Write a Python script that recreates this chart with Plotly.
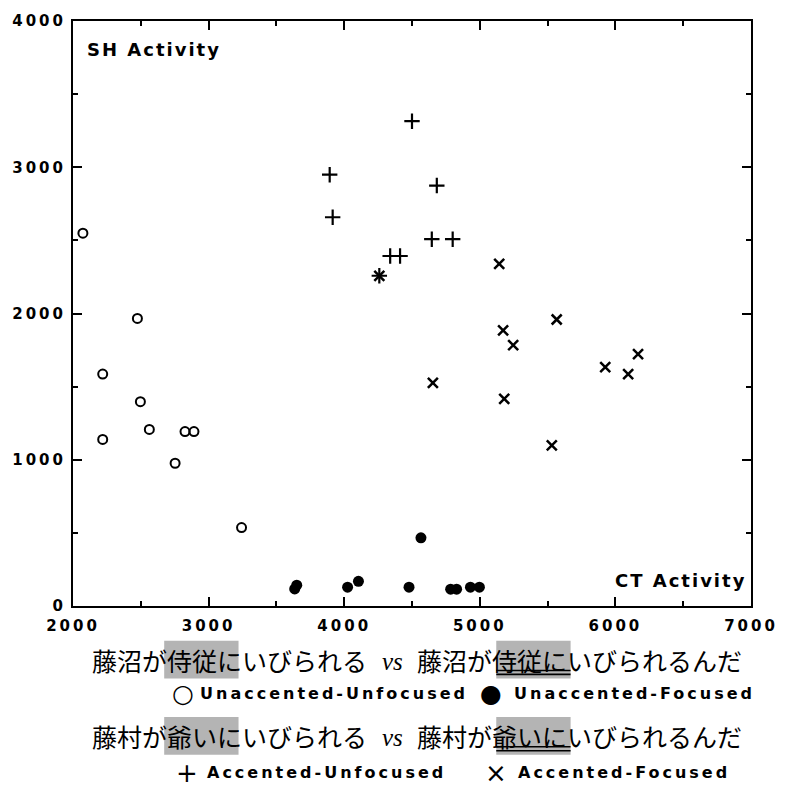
import plotly.graph_objects as go

# ---------------- data ----------------
uu_x = [2073, 2475, 2219, 2219, 2497, 2563, 2826, 2892, 2753, 3243]
uu_y = [2549, 1966, 1586, 1139, 1397, 1207, 1193, 1193, 976, 536]

uf_x = [3635, 3650, 4025, 4105, 4478, 4566, 4785, 4829, 4931, 4997]
uf_y = [117, 142, 129, 169, 129, 466, 115, 115, 129, 129]

au_x = [3893, 3915, 4259, 4339, 4412, 4500, 4683, 4646, 4800]
au_y = [2949, 2658, 2258, 2393, 2393, 3315, 2875, 2508, 2508]

af_x = [4259, 5143, 5567, 5172, 5246, 4654, 5180, 5531, 5925, 6094, 6167]
af_y = [2258, 2339, 1959, 1885, 1783, 1525, 1417, 1098, 1634, 1586, 1722]

x_ticks = [2000, 3000, 4000, 5000, 6000, 7000]
y_ticks = [0, 1000, 2000, 3000, 4000]

series_names = ["Unaccented-Unfocused", "Unaccented-Focused",
                "Accented-Unfocused", "Accented-Focused"]
x_title = "CT Activity"
y_title = "SH Activity"
line1 = ["藤沼が侍従にいびられる", "vs", "藤沼が侍従にいびられるんだ"]
line2 = ["藤村が爺いにいびられる", "vs", "藤村が爺いにいびられるんだ"]

# ---------------- layout helpers (page pixels) ----------------
L, R, T, B = 73, 757, 16, 606
W = H = 790


def pxx(p):
    return (p - L) / (R - L)


def pxy(p):
    return (B - p) / (B - T)


def sp(text, ls):
    return f'<span style="letter-spacing:{ls}px">{text}</span>'


BOLD = "DejaVu Sans"

fig = go.Figure()
fig.add_trace(go.Scatter(x=uu_x, y=uu_y, mode="markers", name=series_names[0],
                         marker=dict(symbol="circle-open", size=9, color="black",
                                     line=dict(width=2, color="black"))))
fig.add_trace(go.Scatter(x=uf_x, y=uf_y, mode="markers", name=series_names[1],
                         marker=dict(symbol="circle", size=11, color="black")))
fig.add_trace(go.Scatter(x=au_x, y=au_y, mode="markers", name=series_names[2],
                         marker=dict(symbol="cross-thin", size=11, color="black",
                                     line=dict(width=2.2, color="black"))))
fig.add_trace(go.Scatter(x=af_x, y=af_y, mode="markers", name=series_names[3],
                         marker=dict(symbol="x-thin", size=10, color="black",
                                     line=dict(width=2.5, color="black"))))

axis_common = dict(showgrid=False, zeroline=False, showline=True, linewidth=2,
                   linecolor="black", mirror="allticks", ticks="inside",
                   ticklen=9, tickwidth=2, tickcolor="black",
                   tickfont=dict(family=BOLD, size=15, color="black", weight="bold"))

fig.update_layout(
    width=W, height=H,
    margin=dict(l=L, r=W - R, t=T, b=H - B, pad=0),
    paper_bgcolor="white", plot_bgcolor="white",
    showlegend=False,
    xaxis=dict(range=[2000, 7000], tickvals=x_ticks,
               ticktext=[sp(str(v), 3) for v in x_ticks], ticklabelstandoff=5,
               minor=dict(dtick=500, ticks="inside", ticklen=5, tickwidth=2,
                          tickcolor="black"),
               **axis_common),
    yaxis=dict(range=[0, 4000], tickvals=y_ticks,
               ticktext=[sp(str(v), 3) for v in y_ticks], ticklabelstandoff=2,
               minor=dict(dtick=500, ticks="inside", ticklen=5, tickwidth=2,
                          tickcolor="black"),
               **axis_common),
)

ann = []
TF = dict(family=BOLD, size=18, color="black", weight="bold")
ann.append(dict(text=sp(y_title, 2), x=pxx(85), y=pxy(45), xref="paper", yref="paper",
                xanchor="left", yanchor="middle", showarrow=False, font=TF))
ann.append(dict(text=sp(x_title, 2), x=pxx(754), y=pxy(580), xref="paper", yref="paper",
                xanchor="right", yanchor="middle", showarrow=False, font=TF))

JP = dict(family="Noto Sans CJK JP", size=25, color="black")
CH = 25
JX0, JX1 = 90, 750
for line, yc in ((line1, 660), (line2, 737)):
    ann.append(dict(text=line[0], x=pxx(JX0), y=pxy(yc), xref="paper", yref="paper",
                    xanchor="left", yanchor="middle", showarrow=False, font=JP))
    ann.append(dict(text=f"<i>{line[1]}</i>", x=pxx(395), y=pxy(yc + 2), xref="paper",
                    yref="paper", xanchor="center", yanchor="middle", showarrow=False,
                    font=dict(family="Liberation Serif", size=25, color="black")))
    ann.append(dict(text=line[2], x=pxx(JX1), y=pxy(yc), xref="paper", yref="paper",
                    xanchor="right", yanchor="middle", showarrow=False, font=JP))

LEG = dict(family=BOLD, size=16, color="black", weight="bold")
legend_rows = [
    (694, [("○", 184, 25), (series_names[0], 199, None), ("●", 495, 25),
           (series_names[1], 516, None)]),
    (774, [("+", 188, 26), (series_names[2], 206, None), ("×", 500, 26),
           (series_names[3], 520, None)]),
]
for yc, items in legend_rows:
    for txt, x0, sz in items:
        if sz is None:
            ann.append(dict(text=sp(txt, 3), x=pxx(x0), y=pxy(yc), xref="paper",
                            yref="paper", xanchor="left", yanchor="middle",
                            showarrow=False, font=LEG))
        else:
            ann.append(dict(text=txt, x=pxx(x0), y=pxy(yc), xref="paper",
                            yref="paper", xanchor="center", yanchor="middle",
                            showarrow=False,
                            font=dict(family="DejaVu Sans", size=sz, color="black")))

shapes = []
for yc in (660, 737):
    for bx in (JX0 + 3 * CH, JX1 - 10 * CH):
        shapes.append(dict(type="rect", xref="paper", yref="paper",
                           x0=pxx(bx), x1=pxx(bx + 3 * CH),
                           y0=pxy(yc + 19), y1=pxy(yc - 19),
                           fillcolor="#b4b4b4", line=dict(width=0), layer="above"))
    bx = JX1 - 10 * CH
    for dy in (11, 15):
        shapes.append(dict(type="line", xref="paper", yref="paper",
                           x0=pxx(bx), x1=pxx(bx + 3 * CH),
                           y0=pxy(yc + dy), y1=pxy(yc + dy),
                           line=dict(color="black", width=1.6), layer="above"))

fig.update_layout(annotations=ann, shapes=shapes)
fig.write_html("out.html",
               config={"displayModeBar": False, "staticPlot": True},
               post_script="document.body.style.margin='0';"
                           "document.body.style.overflow='hidden';")
